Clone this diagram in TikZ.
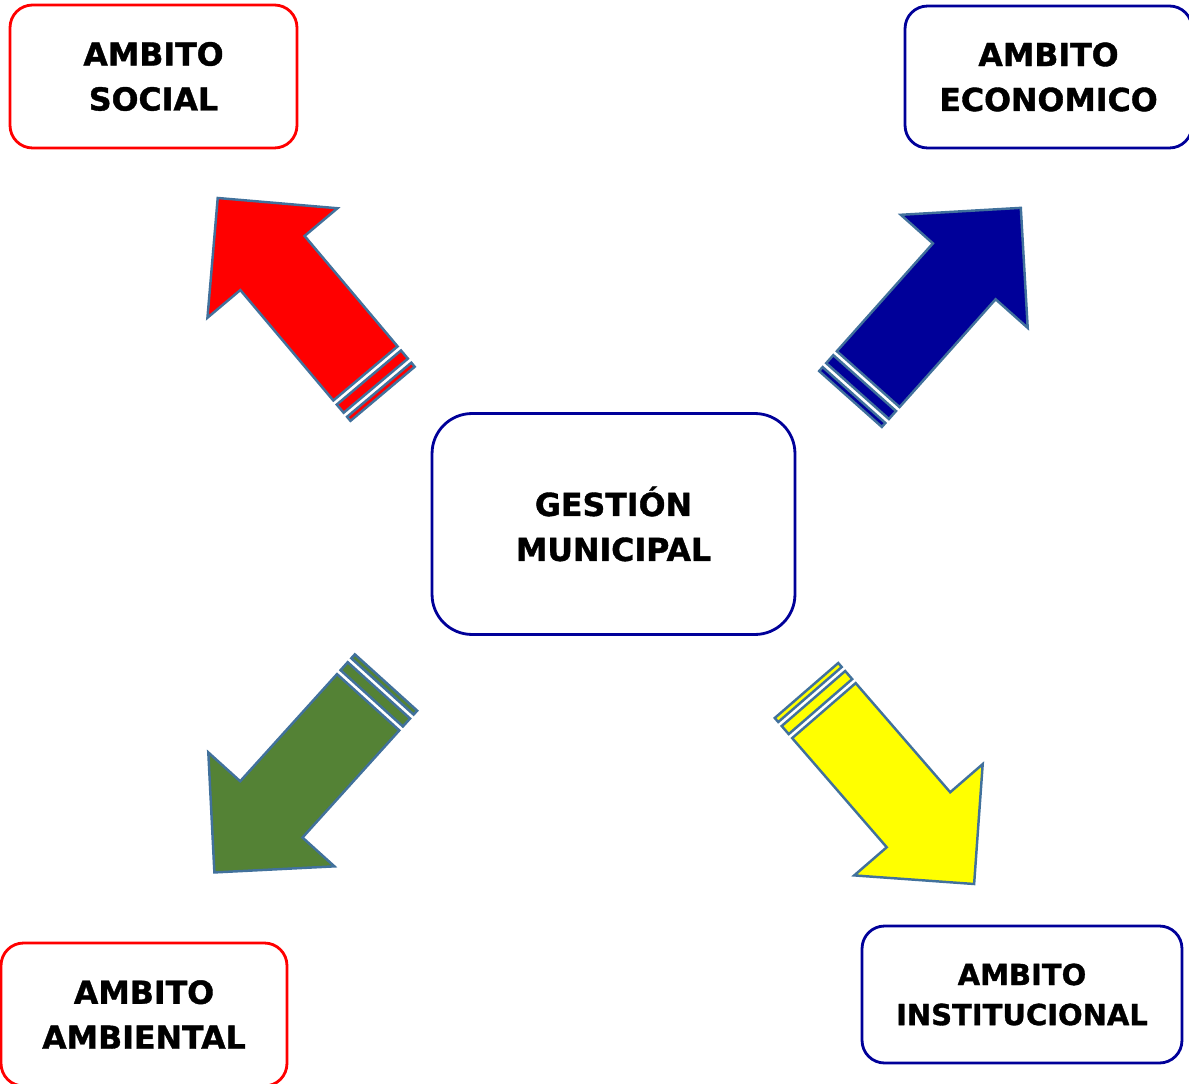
\documentclass[tikz,border=0pt]{standalone}
\usepackage{fontspec}
\setmainfont{DejaVu Sans}[BoldFeatures={FakeBold=1.2}]
\definecolor{azul}{RGB}{0,0,153}
\definecolor{verde}{RGB}{84,130,53}
\definecolor{amarillo}{RGB}{255,255,0}
\definecolor{borde}{RGB}{65,113,156}

\begin{document}
\begin{tikzpicture}[x=0.02cm, y=-0.02cm]
  \tikzset{ambito/.style={rectangle, rounded corners=0.45cm, draw, line width=1.6pt, align=center, inner sep=0pt, font=\bfseries\fontsize{18}{25.6}\selectfont}}
  \tikzset{gestion/.style={ambito, rounded corners=0.8cm}}
  \tikzset{pics/flecha/.style={code={
    \draw[borde, line width=1.4pt, fill=#1] (26.6,42) -- (171,42) -- (171,85) -- (256,0) -- (171,-85) -- (171,-42) -- (26.6,-42) -- cycle;
    \draw[borde, line width=1.4pt, fill=#1] (10.6,42) rectangle (21.3,-42);
    \draw[borde, line width=1.4pt, fill=#1] (0,42) rectangle (5.3,-42);
  }}}

  \useasboundingbox (0,0) rectangle (1189,1084);

  \node[ambito, draw=red, minimum width=5.74cm, minimum height=2.86cm] (social) at (153.5,76.5) {AMBITO\\SOCIAL};
  \node[ambito, draw=azul, minimum width=5.74cm, minimum height=2.84cm] (economico) at (1048.5,77) {AMBITO\\ECONOMICO};
  \node[gestion, draw=azul, minimum width=7.26cm, minimum height=4.42cm] (gestion) at (613.5,524) {GESTIÓN\\MUNICIPAL};
  \node[ambito, draw=red, minimum width=5.72cm, minimum height=2.86cm] (ambiental) at (144,1014.5) {AMBITO\\AMBIENTAL};
  \node[ambito, draw=azul, minimum width=6.4cm, minimum height=2.74cm, font=\bfseries\fontsize{16.5}{22.8}\selectfont] (institucional) at (1022,994.5) {AMBITO\\INSTITUCIONAL};

  \pic[shift={(382.6,393.8)}, rotate=130.1] {flecha=red};
  \pic[shift={(850.5,399)}, rotate=48.3] {flecha=azul};
  \pic[shift={(386,682.5)}, rotate=227.9] {flecha=verde};
  \pic[shift={(806.5,690.5)}, rotate=-49.1] {flecha=amarillo};
\end{tikzpicture}
\end{document}
